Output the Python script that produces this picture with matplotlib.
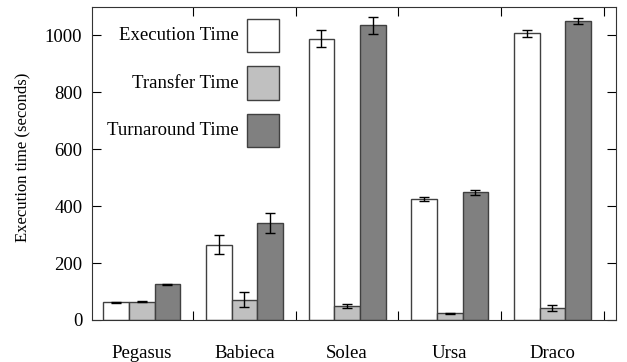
import matplotlib
matplotlib.use("Agg")
import matplotlib.pyplot as plt
import numpy as np
from matplotlib.patches import Rectangle

plt.rcParams['font.family'] = ['Liberation Serif', 'DejaVu Serif']

categories = ["Pegasus", "Babieca", "Solea", "Ursa", "Draco"]
series = ["Execution Time", "Transfer Time", "Turnaround Time"]
execution = [62, 265, 988, 426, 1008]
execution_err = [2, 32, 30, 8, 12]
transfer = [64, 72, 49, 23, 42]
transfer_err = [2, 26, 8, 2, 9]
turnaround = [125, 341, 1036, 449, 1052]
turnaround_err = [2, 36, 30, 9, 10]
yticks = [0, 200, 400, 600, 800, 1000]

colors = ["#ffffff", "#c0c0c0", "#808080"]
edge = "#404040"
FS = 13.5
W, H = 627, 362

fig = plt.figure(figsize=(6.27, 3.62), dpi=100)
ax = fig.add_axes([92 / W, 1 - 320 / H, (616 - 92) / W, (320 - 7) / H])

x = np.arange(len(categories))
w = 0.25
for i, (vals, errs) in enumerate([(execution, execution_err), (transfer, transfer_err), (turnaround, turnaround_err)]):
    ax.bar(x + (i - 1) * w, vals, w, color=colors[i], edgecolor=edge, linewidth=1.0,
           yerr=errs, error_kw=dict(ecolor='black', elinewidth=1.0, capsize=3.5, capthick=1.0),
           label=series[i], zorder=2)

ax.set_xlim(-0.485, 4.62)
ax.set_ylim(0, 1100)
ax.set_yticks(yticks)
ax.tick_params(axis='y', direction='in', length=6.5, right=True, labelsize=FS, width=0.8, pad=7)
ax.set_xticks(np.arange(len(categories)) + 0.5)
ax.set_xticklabels([])
ax.tick_params(axis='x', which='major', direction='in', length=6.5, top=True, width=0.8)
ax.set_xticks(x, minor=True)
ax.set_xticklabels(categories, minor=True)
ax.tick_params(axis='x', which='minor', length=0, labelsize=FS, pad=18)
ax.set_ylabel("Execution time (seconds)", fontsize=12)
ax.yaxis.set_label_coords((30 - 92) / 524, (320 - 157) / 313)
for s in ax.spines.values():
    s.set_linewidth(0.8)
    s.set_color('#333333')

# legend drawn as in the reference: label on the left, large swatch on the right
for i in range(3):
    top = 19 + 47.5 * i
    fig.add_artist(Rectangle((247 / W, 1 - (top + 33) / H), 32 / W, 33 / H,
                             transform=fig.transFigure, facecolor=colors[i],
                             edgecolor=edge, linewidth=1.0))
    fig.text(239 / W, 1 - (top + 16.5) / H, series[i], ha='right', va='center', fontsize=FS)

fig.savefig("out.png", dpi=100)
